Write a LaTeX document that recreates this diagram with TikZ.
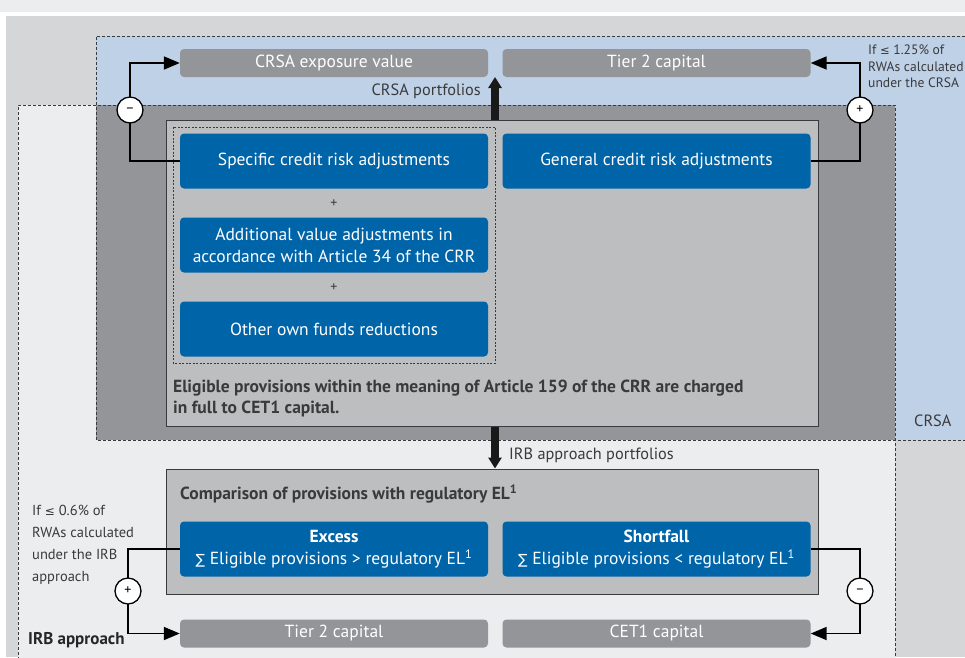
\documentclass[tikz,border=0pt]{standalone}
\usepackage{fontspec}
\setmainfont{PT Sans}
\newfontfamily\symfont{DejaVu Sans}
\usetikzlibrary{arrows.meta}
\definecolor{boxblue}{HTML}{0064A8}
\definecolor{boxgrey}{HTML}{939598}
\definecolor{panelgrey}{HTML}{BCBEC0}
\definecolor{bggrey}{HTML}{D5D6D8}
\definecolor{irbfill}{HTML}{ECEDEF}
\definecolor{crsafill}{HTML}{BFD1E7}
\definecolor{darktext}{HTML}{3A3A3C}
\tikzset{
  bluebox/.style={fill=boxblue, rounded corners=4pt, text=white, minimum width=308pt,
    minimum height=55pt, align=center, inner sep=0pt, font=\fontsize{17.5}{22}\selectfont},
  greybox/.style={fill=boxgrey, rounded corners=4pt, text=white, minimum width=308pt,
    minimum height=28pt, inner sep=0pt, font=\fontsize{17.5}{18}\selectfont},
  sign/.style={circle, draw=black, fill=white, line width=1.3pt, minimum size=26pt,
    inner sep=0pt, font=\fontsize{14}{14}\selectfont},
  conn/.style={line width=1.8pt, draw=black, -{Triangle[length=16pt,width=13pt]}},
  bigarrow/.style={line width=8pt, draw=black!90, -{Triangle[length=11pt,width=13pt]}},
  zone/.style={draw=darktext, line width=0.8pt, dash pattern=on 3pt off 2pt},
  note/.style={text=darktext, align=left, inner sep=0pt, font=\fontsize{14.5}{16.5}\selectfont},
  label/.style={text=darktext, inner sep=0pt, font=\fontsize{16.3}{18}\selectfont}
}
\begin{document}
\begin{tikzpicture}[x=1pt,y=-1pt]
  \useasboundingbox (0,0) rectangle (965,657);
  % background bands and zones
  \fill[irbfill] (0,0) rectangle (965,12);
  \fill[white] (0,12) rectangle (965,16);
  \fill[bggrey] (6,16) rectangle (965,657);
  \fill[irbfill] (18,105) rectangle (895,660);
  \fill[crsafill] (96,36) rectangle (970,440);
  \fill[boxgrey] (96,105) rectangle (895,440);
  \draw[zone] (18,660) -- (18,105) -- (895,105) -- (895,660);
  \draw[zone] (970,36) -- (96,36) -- (96,440) -- (970,440);

  % CRSA part
  \node[greybox] (crsaexp) at (334,63) {CRSA exposure value};
  \node[greybox] (tiertop) at (656.5,63) {Tier 2 capital};
  \node[label, anchor=east] (crsalbl) at (481,91) {CRSA portfolios};
  \node[draw=darktext, fill=panelgrey, line width=1pt, minimum width=652pt, minimum height=306pt] (crsabox) at (492,273) {};
  \draw[darktext, line width=0.7pt, dash pattern=on 2pt off 1.5pt] (173,127) rectangle (495,363);
  \node[bluebox] (specific) at (334,161) {Specific credit risk adjustments};
  \node[bluebox] (general) at (656.5,161) {General credit risk adjustments};
  \node[text=darktext, font=\fontsize{14}{14}\selectfont] (plusa) at (334,204) {+};
  \node[bluebox] (additional) at (334,245) {Additional value adjustments in\\accordance with Article 34 of the CRR};
  \node[text=darktext, font=\fontsize{14}{14}\selectfont] (plusb) at (334,288) {+};
  \node[bluebox] (otherown) at (334,329) {Other own funds reductions};
  \node[anchor=west, note, font=\bfseries\fontsize{17.5}{21}\selectfont] (eligtext) at (173,398)
    {Eligible provisions within the meaning of Article 159 of the CRR are charged\\in full to CET1 capital.};
  \node[label, anchor=west] (crsatag) at (914,421) {CRSA};
  \node[note, anchor=north west, font=\fontsize{13.6}{16.5}\selectfont] (crsanote) at (868,45) {If {\symfont\fontsize{11.5}{11.5}\selectfont≤} 1.25\% of\\RWAs calculated\\under the CRSA};

  % IRB part
  \node[draw=darktext, fill=panelgrey, line width=1pt, minimum width=652pt, minimum height=125pt] (compare) at (492,531.5) {};
  \node[anchor=west, inner sep=0pt, text=darktext, font=\bfseries\fontsize{17.5}{18}\selectfont] (comptitle) at (180,494)
    {Comparison of provisions with regulatory EL\textsuperscript{1}};
  \node[bluebox] (excess) at (334,549) {\textbf{Excess}\\{\symfont\fontsize{14}{14}\selectfont∑} Eligible provisions > regulatory EL\textsuperscript{1}};
  \node[bluebox] (shortfall) at (656.5,549) {\textbf{Shortfall}\\{\symfont\fontsize{14}{14}\selectfont∑} Eligible provisions < regulatory EL\textsuperscript{1}};
  \node[greybox] (tierbot) at (334,633.5) {Tier 2 capital};
  \node[greybox] (cetone) at (656.5,633.5) {CET1 capital};
  \node[label, anchor=west] (irblbl) at (509,455) {IRB approach portfolios};
  \node[note, anchor=north west, font=\fontsize{14.5}{22}\selectfont] (irbnote) at (32,505)
    {If {\symfont\fontsize{12}{12}\selectfont≤} 0.6\% of\\RWAs calculated\\under the IRB\\approach};
  \node[anchor=west, inner sep=0pt, text=black!85, font=\bfseries\fontsize{17}{18}\selectfont] (irbtag) at (28,640) {IRB approach};

  % portfolio arrows
  \coordinate (gap) at (495,77);
  \draw[bigarrow] (gap |- crsabox.north) -- (gap);
  \draw[bigarrow] (gap |- crsabox.south) -- (gap |- compare.north);

  % connectors through the sign circles
  \coordinate (mt) at (130,110);
  \coordinate (pt) at (860,110);
  \coordinate (pb) at (128,591);
  \coordinate (mb) at (860,591);
  \draw[conn] (specific.west) -| (mt) |- (crsaexp.west);
  \draw[conn] (general.east) -| (pt) |- (tiertop.east);
  \draw[conn] (excess.west) -| (pb) |- (tierbot.west);
  \draw[conn] (shortfall.east) -| (mb) |- (cetone.east);
  \node[sign] (minustop) at (mt) {--};
  \node[sign] (plustop) at (pt) {+};
  \node[sign] (plusbot) at (pb) {+};
  \node[sign] (minusbot) at (mb) {--};
\end{tikzpicture}
\end{document}
